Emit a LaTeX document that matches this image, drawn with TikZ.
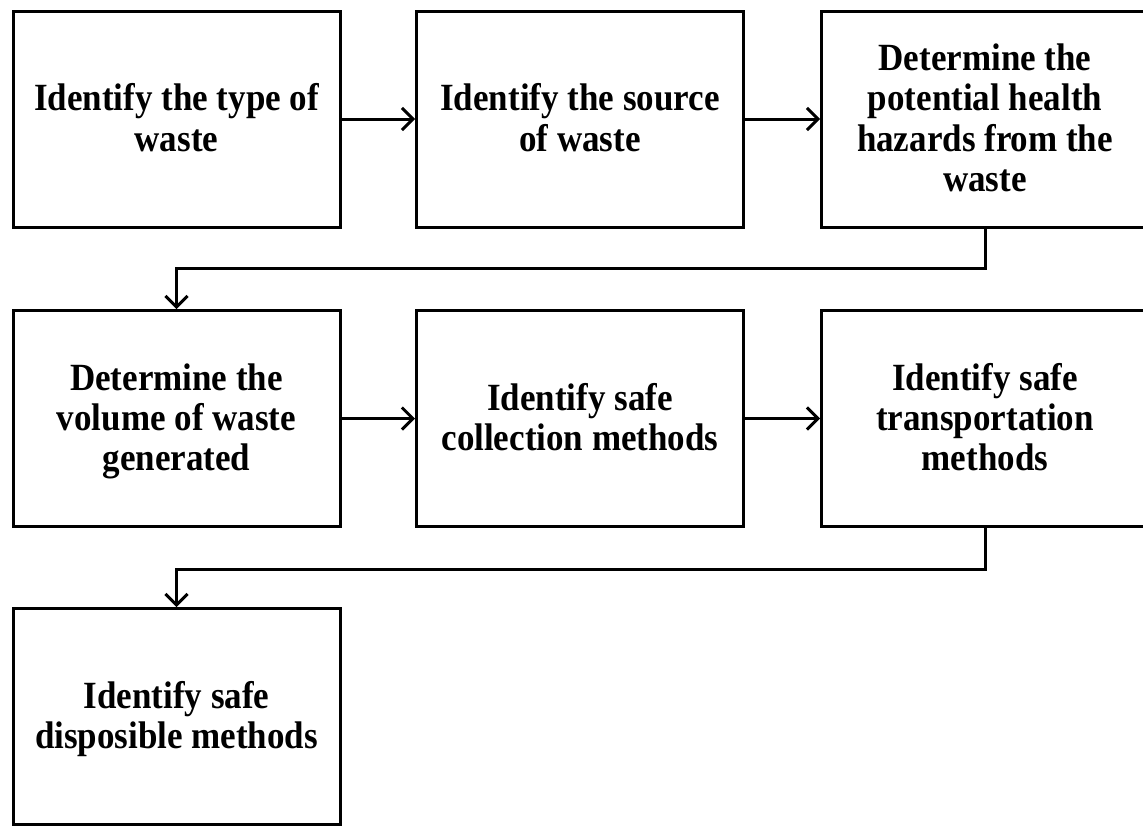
\documentclass[tikz,border=0pt]{standalone}
\usepackage{fontspec}
\setmainfont{Liberation Serif}
\usetikzlibrary{arrows.meta}
\newcommand{\boxtext}[1]{\raisebox{-4pt}[\height][\depth]{\scalebox{1}[1.1]{\begin{tabular}{@{}c@{}}#1\end{tabular}}}}
\begin{document}
\begin{tikzpicture}[x=1pt,y=-1pt,
  box/.style={draw, line width=3pt, minimum width=327pt, minimum height=216pt,
    align=center, inner sep=0pt, font=\bfseries\fontsize{35}{36.4}\selectfont},
  arr/.style={line width=3pt, -{Straight Barb[length=11pt,width=22pt,line width=3pt]}}]
\useasboundingbox (0,0) rectangle (1143,825);
\fill[white] (0,0) rectangle (1143,825);
\node[box] (b1) at (176.5,119) {\boxtext{Identify the type of\\waste}};
\node[box] (b2) at (580,119) {\boxtext{Identify the source\\of waste}};
\node[box] (b3) at (985,119) {\boxtext{Determine the\\potential health\\hazards from the\\waste}};
\node[box] (b4) at (176.5,418.5) {\boxtext{Determine the\\volume of waste\\generated}};
\node[box] (b5) at (580,418.5) {\boxtext{Identify safe\\collection methods}};
\node[box] (b6) at (985,418.5) {\boxtext{Identify safe\\transportation\\methods}};
\node[box] (b7) at (176.5,716.5) {\boxtext{Identify safe\\disposible methods}};
\draw[arr] (b1) -- (b2);
\draw[arr] (b2) -- (b3);
\draw[arr] (b3.south) -- ++(0,40) -| (b4.north);
\draw[arr] (b4) -- (b5);
\draw[arr] (b5) -- (b6);
\draw[arr] (b6.south) -- ++(0,41) -| (b7.north);
\end{tikzpicture}
\end{document}
